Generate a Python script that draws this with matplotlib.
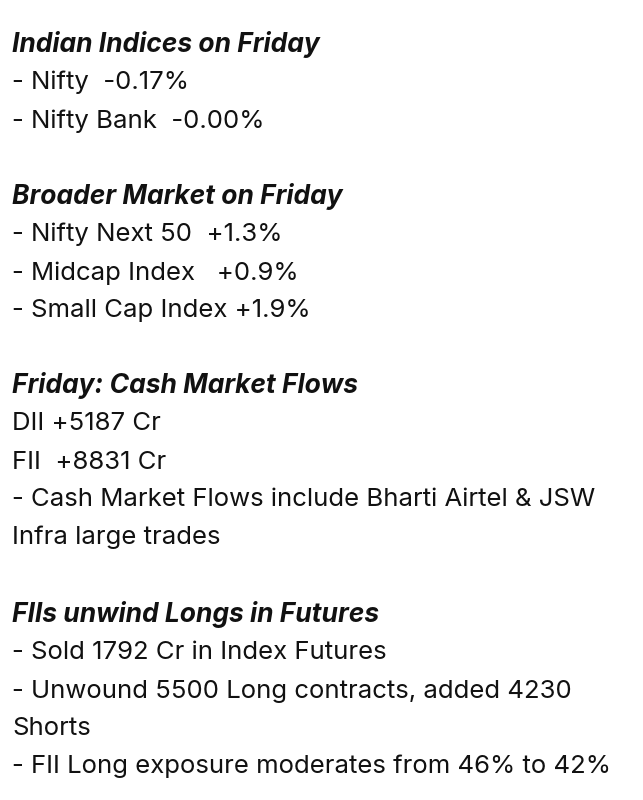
import matplotlib.pyplot as plt

# sections: (heading, lines)
headings = ['Indian Indices on Friday',
            'Broader Market on Friday',
            'Friday: Cash Market Flows',
            'FIIs unwind Longs in Futures']
section1 = ['- Nifty  -0.17%', '- Nifty Bank  -0.00%']
section2 = ['- Nifty Next 50  +1.3%', '- Midcap Index   +0.9%', '- Small Cap Index +1.9%']
section3 = ['DII +5187 Cr', 'FII  +8831 Cr',
            '- Cash Market Flows include Bharti Airtel & JSW', 'Infra large trades']
section4 = ['- Sold 1792 Cr in Index Futures',
            '- Unwound 5500 Long contracts, added 4230', 'Shorts',
            '- FII Long exposure moderates from 46% to 42%']
sections = [section1, section2, section3, section4]

# baseline of each heading in pixels from the top
head_y = [52, 204, 393, 622]
line_gap = 37.8

W, H = 643, 800
fig = plt.figure(figsize=(W / 100, H / 100), dpi=100)
fig.patch.set_facecolor('white')

x0 = 12 / W
fs = 18.5
col = '#111111'
for hy, head, lines in zip(head_y, headings, sections):
    fig.text(x0, 1 - hy / H, head, fontsize=19, fontweight='bold', fontstyle='italic',
             family='Inter', color=col, va='baseline', ha='left')
    for i, ln in enumerate(lines):
        y = hy + line_gap * (i + 1) - (1 if i == 0 else 0)
        fig.text(x0, 1 - y / H, ln, fontsize=fs, family='Inter',
                 color=col, va='baseline', ha='left')

fig.savefig('out.png', dpi=100, facecolor='white')
